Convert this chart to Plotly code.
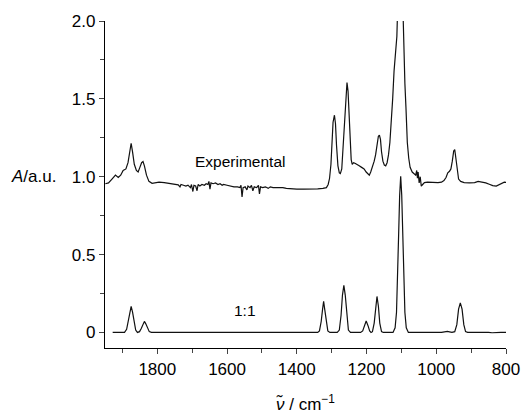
import plotly.graph_objects as go

# Experimental spectrum (wavenumber / cm-1, absorbance a.u.)
exp_wn = [1949, 1940, 1930, 1920, 1912, 1905, 1898, 1890, 1884, 1879, 1875, 1871, 1866, 1860, 1855,
          1850, 1845, 1841, 1837, 1831, 1824, 1815, 1805, 1795, 1780, 1765, 1750, 1740, 1735, 1732,
          1725, 1718, 1712, 1705, 1702, 1698, 1695, 1690, 1686, 1683, 1678, 1672, 1665, 1660, 1655,
          1652, 1649, 1646, 1640, 1633, 1626, 1620, 1614, 1610, 1600, 1590, 1580, 1570, 1563, 1560,
          1557, 1554, 1548, 1543, 1540, 1534, 1530, 1526, 1522, 1515, 1510, 1507, 1504, 1498, 1490,
          1482, 1476, 1468, 1460, 1450, 1440, 1430, 1420, 1400, 1380, 1360, 1340, 1325, 1315, 1310,
          1306, 1302, 1299, 1296, 1292, 1289, 1286, 1282, 1278, 1275, 1271, 1267, 1263, 1259, 1256,
          1253, 1250, 1247, 1244, 1241, 1237, 1232, 1227, 1221, 1214, 1207, 1201, 1196, 1192, 1188,
          1183, 1178, 1174, 1170, 1166, 1163, 1160, 1157, 1153, 1149, 1145, 1141, 1137, 1133, 1129,
          1125, 1121, 1117, 1113, 1108, 1102, 1097, 1094, 1090, 1087, 1083, 1079, 1075, 1069, 1063,
          1059, 1056, 1054, 1052, 1049, 1046, 1043, 1039, 1034, 1025, 1010, 995, 985, 978, 972,
          967, 962, 958, 954, 950, 947, 944, 940, 936, 930, 920, 905, 890, 880, 875,
          868, 858, 848, 838, 828, 820, 812, 805, 800]
exp_abs = [0.955, 0.960, 0.985, 1.010, 0.995, 1.010, 1.040, 1.050, 1.090, 1.170, 1.215, 1.160, 1.080, 1.040, 1.030,
           1.060, 1.090, 1.097, 1.070, 1.010, 0.970, 0.958, 0.962, 0.965, 0.962, 0.958, 0.952, 0.948, 0.935, 0.950,
           0.945, 0.940, 0.946, 0.930, 0.950, 0.905, 0.945, 0.940, 0.910, 0.950, 0.940, 0.950, 0.945, 0.955, 0.950,
           0.970, 0.920, 0.960, 0.955, 0.960, 0.950, 0.955, 0.945, 0.950, 0.945, 0.940, 0.935, 0.935, 0.930, 0.945,
           0.870, 0.930, 0.935, 0.915, 0.940, 0.930, 0.945, 0.910, 0.935, 0.930, 0.945, 0.890, 0.935, 0.930, 0.935,
           0.925, 0.935, 0.930, 0.930, 0.928, 0.930, 0.925, 0.923, 0.920, 0.920, 0.920, 0.922, 0.925, 0.930, 0.950,
           0.990, 1.080, 1.220, 1.350, 1.395, 1.340, 1.200, 1.070, 1.025, 1.020, 1.050, 1.200, 1.420, 1.570, 1.605,
           1.550, 1.380, 1.200, 1.110, 1.080, 1.090, 1.085, 1.080, 1.070, 1.060, 1.050, 1.030, 1.015, 1.010, 1.030,
           1.060, 1.100, 1.140, 1.200, 1.260, 1.267, 1.240, 1.160, 1.100, 1.075, 1.070, 1.090, 1.140, 1.220, 1.350,
           1.500, 1.680, 1.780, 1.900, 2.300, 2.600, 2.200, 1.850, 1.600, 1.450, 1.220, 1.120, 1.060, 1.030, 1.020,
           1.010, 1.040, 0.990, 1.030, 0.960, 1.000, 0.940, 0.950, 0.962, 0.965, 0.962, 0.962, 0.965, 0.975, 0.995,
           1.025, 1.035, 1.050, 1.100, 1.165, 1.175, 1.120, 1.030, 0.985, 0.970, 0.962, 0.960, 0.962, 0.970, 0.968,
           0.963, 0.960, 0.952, 0.943, 0.940, 0.950, 0.960, 0.965, 0.963]

# Simulated 1:1 spectrum
sim_wn = [1928, 1894, 1888, 1883, 1879, 1875, 1871, 1867, 1862, 1857, 1851, 1846, 1841, 1837, 1833,
          1828, 1823, 1817, 1340, 1335, 1330, 1326, 1323, 1320, 1316, 1311, 1305, 1284, 1278, 1273,
          1269, 1265, 1261, 1257, 1252, 1246, 1217, 1211, 1206, 1201, 1196, 1191, 1187, 1183, 1178,
          1174, 1170, 1166, 1162, 1157, 1152, 1124, 1118, 1114, 1111, 1108, 1105, 1102, 1099, 1096,
          1093, 1090, 1086, 1080, 985, 975, 968, 962, 955, 947, 941, 936, 931, 926, 921,
          916, 910, 870, 860, 850, 840, 830, 815, 800]
sim_abs = [0.000, 0.000, 0.020, 0.070, 0.130, 0.167, 0.130, 0.070, 0.015, 0.000, 0.005, 0.025, 0.055, 0.071, 0.055,
           0.025, 0.005, 0.000, 0.000, 0.010, 0.070, 0.150, 0.200, 0.150, 0.070, 0.010, 0.000, 0.000, 0.015, 0.110,
           0.240, 0.302, 0.240, 0.110, 0.015, 0.000, 0.000, 0.010, 0.045, 0.073, 0.045, 0.010, 0.000, 0.005, 0.060,
           0.170, 0.231, 0.170, 0.060, 0.005, 0.000, 0.000, 0.030, 0.130, 0.320, 0.620, 0.880, 1.003, 0.880, 0.620,
           0.320, 0.130, 0.030, 0.000, 0.000, 0.004, 0.007, 0.004, 0.000, 0.005, 0.050, 0.150, 0.190, 0.150, 0.050,
           0.005, 0.000, 0.000, 0.002, 0.000, -0.002, 0.000, 0.000, 0.000]

x_tick_vals = [1800, 1600, 1400, 1200, 1000, 800]
y_tick_vals = [0, 0.5, 1.0, 1.5, 2.0]
y_tick_text = ["0", "0.5", "1.0", "1.5", "2.0"]

line_style = dict(color="#111111", width=1.2)
fig = go.Figure()
fig.add_trace(go.Scatter(x=exp_wn, y=exp_abs, mode="lines", line=line_style, showlegend=False))
fig.add_trace(go.Scatter(x=sim_wn, y=sim_abs, mode="lines", line=line_style, showlegend=False))

font_family = "Liberation Sans, Arial, sans-serif"
fig.update_layout(
    width=525, height=414,
    margin=dict(l=105, r=19, t=21, b=66),
    paper_bgcolor="white", plot_bgcolor="white",
    font=dict(family=font_family, size=17, color="black"),
    xaxis=dict(range=[1950, 800], tickvals=x_tick_vals, ticks="outside", ticklen=5, tickwidth=1,
               showline=True, linecolor="black", linewidth=1.2, showgrid=False, zeroline=False,
               automargin=False,
               minor=dict(dtick=100, tick0=800, ticks="outside", ticklen=4, tickwidth=1, showgrid=False),
               tickfont=dict(size=17), title=dict(text="<i>ν̃</i> / cm<sup>−1</sup>", standoff=22,
                                                   font=dict(size=17))),
    yaxis=dict(range=[-0.1, 2.0], tickvals=y_tick_vals, ticktext=y_tick_text, ticks="outside", ticklen=5,
               tickwidth=1, showline=True, linecolor="black", linewidth=1.2, showgrid=False, zeroline=False,
               automargin=False,
               minor=dict(dtick=0.25, tick0=0, ticks="outside", ticklen=4, tickwidth=1, showgrid=False),
               tickfont=dict(size=17)),
)
fig.add_annotation(text="Experimental", x=1562, y=1.10, xref="x", yref="y", showarrow=False,
                   font=dict(size=15.5))
fig.add_annotation(text="1:1", x=1548, y=0.14, xref="x", yref="y", showarrow=False, font=dict(size=15.5))
fig.add_annotation(text="<i>A</i>/a.u.", x=-0.117, y=1.0, xref="paper", yref="y", xanchor="right",
                   showarrow=False, font=dict(size=17))

fig.write_html("out.html", config={"displayModeBar": False},
               post_script="document.body.style.margin='0';document.body.style.overflow='hidden';")
